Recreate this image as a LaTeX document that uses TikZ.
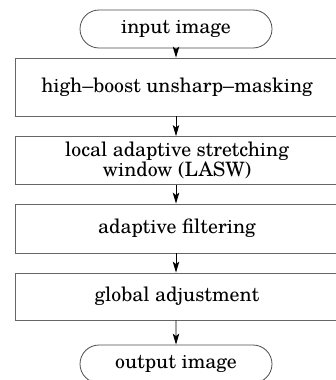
\documentclass[tikz,border=0pt]{standalone}
\usepackage{fontspec}
\setmainfont{TeX Gyre Schola}
\usetikzlibrary{shapes.misc,arrows.meta}
\begin{document}
\begin{tikzpicture}[x=1pt,y=1pt,
  proc/.style={draw=black!60, line width=0.8pt, rectangle, minimum width=324pt, inner sep=0pt, align=center, font=\fontsize{19.8}{20.5}\selectfont},
  term/.style={draw=black!70, line width=0.8pt, rounded rectangle, minimum width=192pt, minimum height=38pt, inner sep=0pt, font=\fontsize{19.8}{20.5}\selectfont},
  flow/.style={-{Stealth[length=11pt,width=6.5pt,inset=2.5pt]}, line width=0.9pt, black}]
\useasboundingbox (0,0) rectangle (336,-380);
\clip (0,0) rectangle (336,-380);
\node[term] (in) at (176,-29) {input image};
\node[proc, minimum height=58pt] (b1) at (177,-87) {high–boost unsharp–masking};
\node[proc, minimum height=48pt] (b2) at (177,-160.5) {local adaptive stretching\\window (LASW)};
\node[proc, minimum height=49pt] (b3) at (177,-228.5) {adaptive filtering};
\node[proc, minimum height=47pt] (b4) at (177,-296.5) {global adjustment};
\node[term] (out) at (176,-364) {output image};
\draw[flow] (in) -- (in |- b1.north);
\draw[flow] (b1.south -| in) -- (in |- b2.north);
\draw[flow] (b2.south -| in) -- (in |- b3.north);
\draw[flow] (b3.south -| in) -- (in |- b4.north);
\draw[flow] (b4.south -| in) -- (out);
\end{tikzpicture}
\end{document}
